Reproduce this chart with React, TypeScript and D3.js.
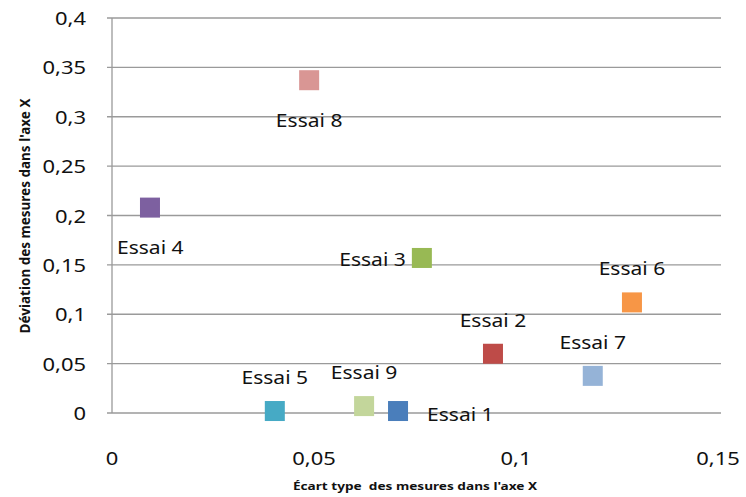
import React from "react";
import * as d3 from "d3";

const names = ["Essai 1", "Essai 2", "Essai 3", "Essai 4", "Essai 5", "Essai 6", "Essai 7", "Essai 8", "Essai 9"];
const xValues = [0.0708, 0.0943, 0.0767, 0.0094, 0.0403, 0.1287, 0.119, 0.0488, 0.0624];
const yValues = [0.002, 0.06, 0.157, 0.208, 0.002, 0.112, 0.0376, 0.337, 0.007];
const colors = ["#4a7ebb", "#be4b48", "#98b954", "#7d60a0", "#46aac5", "#f79646", "#95b3d7", "#d99694", "#c3d69b"];
const labelPlacement = ["right", "above", "left", "belowRight", "above", "above", "above", "below", "above"];
const xTicks = [0, 0.05, 0.1, 0.15];
const yTicks = [0, 0.05, 0.1, 0.15, 0.2, 0.25, 0.3, 0.35, 0.4];

const W = 746, H = 497;
const FONT = "'Noto Sans', 'Open Sans', sans-serif";

function SText(props: { x: number; y: number; sx: number; anchor: string; size: number; bold?: boolean; children: React.ReactNode }) {
  return (
    <text
      transform={`translate(${props.x},${props.y}) scale(${props.sx},1)`}
      textAnchor={props.anchor as any}
      fontFamily={FONT}
      fontSize={props.size}
      fontWeight={props.bold ? "bold" : "normal"}
      fill="#111"
      style={{ whiteSpace: "pre" }}
    >
      {props.children}
    </text>
  );
}

export default function App() {
  const x = d3.scaleLinear().domain([0, 0.15]).range([112, 718]);
  const y = d3.scaleLinear().domain([0, 0.4]).range([413, 18]);
  const fmt = (v: number) => String(+v.toFixed(2)).replace(".", ",");
  const S = 20;
  const labelPos = (p: string, cx: number, cy: number) => {
    switch (p) {
      case "right": return { x: cx + 29, y: cy + 10, a: "start" };
      case "left": return { x: cx - 16, y: cy + 8, a: "end" };
      case "below": return { x: cx, y: cy + 47, a: "middle" };
      case "belowRight": return { x: cx - 33, y: cy + 46, a: "start" };
      default: return { x: cx, y: cy - 27, a: "middle" };
    }
  };
  return (
    <svg width={W} height={H} style={{ position: "absolute", left: 0, top: 0, background: "#fff" }}>
      {yTicks.map((t) => (
        <g key={"g" + t}>
          <line x1={107} x2={721} y1={y(t)} y2={y(t)} stroke="#9a9a9a" strokeWidth={1.3} />
          <SText x={86} y={y(t) + 7} sx={1.22} anchor="end" size={18}>{fmt(t)}</SText>
        </g>
      ))}
      <line x1={112} x2={112} y1={y(0.4)} y2={y(0)} stroke="#9a9a9a" strokeWidth={1.3} />
      {xTicks.map((t) => (
        <SText key={"x" + t} x={x(t)} y={465} sx={1.22} anchor="middle" size={18}>{fmt(t)}</SText>
      ))}
      <SText x={415} y={490} sx={1.24} anchor="middle" size={11} bold>
        {"Écart type  des mesures dans l'axe X"}
      </SText>
      <text transform={`translate(30,216) rotate(-90)`} textAnchor="middle" fontFamily={FONT} fontSize={13.5} fontWeight="bold" fill="#111">
        Déviation des mesures dans l'axe X
      </text>
      {names.map((n, i) => {
        const cx = x(xValues[i]);
        const cy = y(yValues[i]);
        const lp = labelPos(labelPlacement[i], cx, cy);
        return (
          <g key={n}>
            <rect x={cx - S / 2} y={cy - S / 2} width={S} height={S} fill={colors[i]} />
            <SText x={lp.x} y={lp.y} sx={1.17} anchor={lp.a} size={18}>{n}</SText>
          </g>
        );
      })}
    </svg>
  );
}
